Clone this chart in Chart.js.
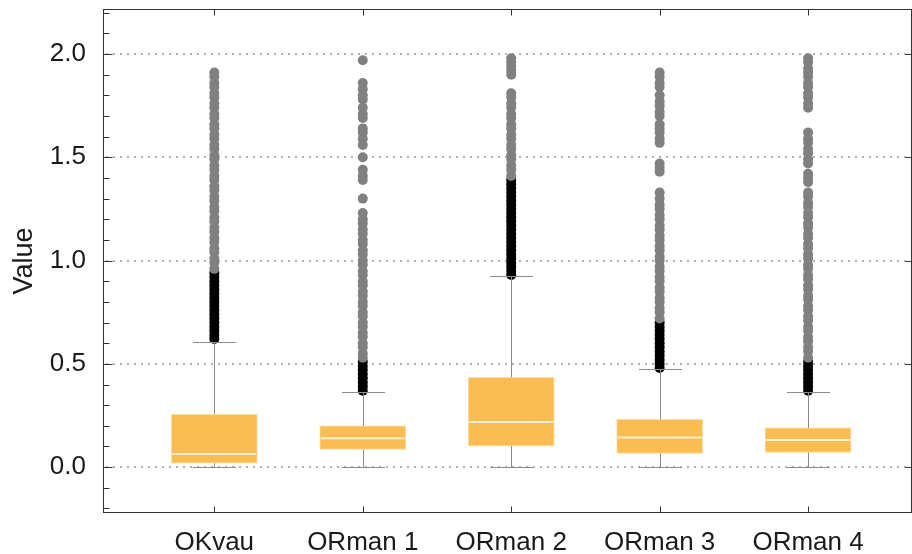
<!DOCTYPE html>
<html>
<head>
<meta charset="utf-8">
<script src="https://cdn.jsdelivr.net/npm/chart.js@4/dist/chart.umd.min.js"></script>
<style>
  html, body { margin: 0; padding: 0; background: #ffffff; }
  #wrap { width: 912px; height: 554px; }
</style>
</head>
<body>
<div id="wrap"><canvas id="chart" width="912" height="554"></canvas></div>
<script>
// Box-and-whisker summary per group
const categories   = ['OKvau', 'ORman 1', 'ORman 2', 'ORman 3', 'ORman 4'];
const lowerWhisker = [0.000, 0.000, 0.000, 0.000, 0.000];
const q1           = [0.019, 0.086, 0.103, 0.066, 0.071];
const median       = [0.064, 0.140, 0.218, 0.143, 0.132];
const q3           = [0.256, 0.200, 0.435, 0.231, 0.190];
const upperWhisker = [0.606, 0.364, 0.927, 0.473, 0.364];

// Near outliers (1.5–3 IQR above the box)
const nearOutliers = [
  [0.62,0.64,0.66,0.68,0.70,0.72,0.74,0.76,0.78,0.80,0.82,0.84,0.86,0.88,0.90,0.92,0.94],
  [0.37,0.39,0.41,0.43,0.45,0.47,0.49,0.51],
  [0.93,0.95,0.97,0.99,1.01,1.03,1.05,1.07,1.09,1.11,1.13,1.15,1.17,1.19,1.21,1.23,1.25,1.27,1.29,1.31,1.33,1.35,1.37,1.39],
  [0.48,0.50,0.52,0.54,0.56,0.58,0.60,0.62,0.64,0.66,0.68,0.70],
  [0.37,0.39,0.41,0.43,0.45,0.47,0.49,0.51]
];

// Far outliers (beyond 3 IQR)
const farOutliers = [
  [0.96,0.99,1.01,1.04,1.06,1.09,1.11,1.14,1.16,1.19,1.21,1.24,1.26,1.29,1.31,1.34,1.36,1.39,1.41,1.44,1.46,1.49,1.51,1.54,1.56,1.59,1.61,1.64,1.66,1.69,1.71,1.74,1.76,1.79,1.81,1.84,1.86,1.89,1.91],
  [0.53,0.55,0.58,0.60,0.63,0.65,0.68,0.70,0.73,0.75,0.78,0.80,0.83,0.85,0.88,0.90,0.93,0.95,0.98,1.00,1.03,1.05,1.08,1.10,1.13,1.15,1.18,1.20,1.23,1.30,1.39,1.41,1.44,1.50,1.56,1.59,1.62,1.64,1.69,1.71,1.74,1.78,1.80,1.83,1.86,1.97],
  [1.41,1.44,1.46,1.49,1.51,1.54,1.56,1.59,1.61,1.64,1.66,1.69,1.71,1.74,1.76,1.79,1.81,1.90,1.92,1.94,1.96,1.98],
  [0.72,0.75,0.77,0.80,0.82,0.85,0.87,0.90,0.92,0.95,0.97,1.00,1.02,1.05,1.07,1.10,1.12,1.15,1.17,1.20,1.22,1.25,1.27,1.30,1.33,1.43,1.45,1.47,1.57,1.59,1.62,1.64,1.66,1.70,1.72,1.75,1.77,1.80,1.84,1.86,1.89,1.91],
  [0.53,0.56,0.58,0.61,0.63,0.66,0.68,0.71,0.73,0.76,0.78,0.81,0.83,0.86,0.88,0.91,0.93,0.96,0.98,1.01,1.03,1.06,1.08,1.11,1.13,1.16,1.18,1.21,1.23,1.26,1.28,1.31,1.33,1.38,1.40,1.42,1.47,1.49,1.52,1.54,1.57,1.59,1.62,1.74,1.76,1.79,1.81,1.84,1.86,1.89,1.91,1.93,1.96,1.98]
];

const yTickStep = 0.5;
const yMinorStep = 0.1;

// Build datasets from the arrays
const boxData = categories.map((c, i) => ({ x: i + 1, y: [q1[i], q3[i]] }));
const toPoints = lists => lists.flatMap((vals, i) => vals.map(v => ({ x: i + 1, y: v })));

const FONT = "'Liberation Sans', Arial, sans-serif";
const INK = '#1a1a1a';

// Frame, ticks, dotted reference lines, whiskers and medians
const boxPlotDecor = {
  id: 'boxPlotDecor',
  beforeDatasetsDraw(chart) {
    const { ctx, chartArea: a, scales: { y } } = chart;
    ctx.save();
    ctx.strokeStyle = '#b0b0b0';
    ctx.lineWidth = 2;
    ctx.setLineDash([2, 5]);
    y.ticks.forEach(t => {
      const py = Math.round(y.getPixelForValue(t.value));
      ctx.beginPath();
      ctx.moveTo(a.left + 3, py);
      ctx.lineTo(a.right, py);
      ctx.stroke();
    });
    ctx.restore();
  },
  afterDatasetsDraw(chart) {
    const { ctx, scales: { x, y } } = chart;
    const bars = chart.getDatasetMeta(0).data;
    ctx.save();
    categories.forEach((c, i) => {
      const px = Math.round(x.getPixelForValue(i + 1)) + 0.5;
      const half = bars[i].width / 2;
      const capHalf = half / 2;
      const yHi = Math.round(y.getPixelForValue(upperWhisker[i])) + 0.5;
      const yLo = Math.round(y.getPixelForValue(lowerWhisker[i])) + 0.5;
      const yQ1 = y.getPixelForValue(q1[i]);
      const yQ3 = y.getPixelForValue(q3[i]);
      ctx.strokeStyle = '#8c8c8c';
      ctx.lineWidth = 1;
      ctx.beginPath();
      ctx.moveTo(px, yQ3); ctx.lineTo(px, yHi);
      ctx.moveTo(px, yQ1); ctx.lineTo(px, yLo);
      ctx.moveTo(px - capHalf, yHi); ctx.lineTo(px + capHalf, yHi);
      ctx.moveTo(px - capHalf, yLo); ctx.lineTo(px + capHalf, yLo);
      ctx.stroke();
      // median line
      const yMed = y.getPixelForValue(median[i]);
      ctx.strokeStyle = '#fff0d2';
      ctx.lineWidth = 2;
      ctx.beginPath();
      ctx.moveTo(bars[i].x - half + 1, yMed);
      ctx.lineTo(bars[i].x + half - 1, yMed);
      ctx.stroke();
    });
    ctx.restore();
  },
  afterDraw(chart) {
    const { ctx, chartArea: a, scales: { x, y } } = chart;
    const L = Math.round(a.left) + 0.5, R = Math.round(a.right) - 0.5;
    const T = Math.round(a.top) + 0.5, B = Math.round(a.bottom) - 0.5;
    ctx.save();
    ctx.strokeStyle = '#333333';
    ctx.lineWidth = 1;
    ctx.strokeRect(L, T, R - L, B - T);
    ctx.beginPath();
    // left: minor and major ticks pointing inward
    const kMin = Math.ceil(y.min / yMinorStep - 1e-9), kMax = Math.floor(y.max / yMinorStep + 1e-9);
    for (let k = kMin; k <= kMax; k++) {
      const v = k * yMinorStep;
      const py = Math.round(y.getPixelForValue(v)) + 0.5;
      const major = Math.abs(v / yTickStep - Math.round(v / yTickStep)) < 1e-6;
      ctx.moveTo(L, py); ctx.lineTo(L + (major ? 9 : 6), py);
    }
    // right: major ticks
    y.ticks.forEach(t => {
      const py = Math.round(y.getPixelForValue(t.value)) + 0.5;
      ctx.moveTo(R, py); ctx.lineTo(R - 6, py);
    });
    // top and bottom: category ticks
    x.ticks.forEach(t => {
      const px = Math.round(x.getPixelForValue(t.value)) + 0.5;
      ctx.moveTo(px, T); ctx.lineTo(px, T + 6);
      ctx.moveTo(px, B); ctx.lineTo(px, B - 6);
    });
    ctx.stroke();
    ctx.restore();
  }
};

new Chart(document.getElementById('chart'), {
  type: 'bar',
  data: {
    datasets: [
      {
        type: 'bar',
        label: 'Box',
        data: boxData,
        backgroundColor: '#fbbc52',
        borderColor: '#ffdca0',
        borderWidth: 1,
        borderSkipped: false,
        barThickness: 86,
        order: 3
      },
      {
        type: 'scatter',
        label: 'Near outliers',
        data: toPoints(nearOutliers),
        backgroundColor: '#000000',
        borderWidth: 0,
        pointRadius: 5,
        order: 2
      },
      {
        type: 'scatter',
        label: 'Far outliers',
        data: toPoints(farOutliers),
        backgroundColor: '#808080',
        borderWidth: 0,
        pointRadius: 5,
        order: 1
      }
    ]
  },
  options: {
    responsive: false,
    animation: false,
    events: [],
    layout: { autoPadding: false, padding: { top: 9, right: 0, left: 0, bottom: 0 } },
    plugins: { legend: { display: false }, tooltip: { enabled: false } },
    scales: {
      x: {
        type: 'linear',
        min: 0.25,
        max: 5.7,
        offset: false,
        grid: { display: false, offset: false },
        border: { display: false },
        ticks: {
          stepSize: 1,
          includeBounds: false,
          autoSkip: false,
          maxRotation: 0,
          padding: 6,
          color: INK,
          font: { family: FONT, size: 26 },
          callback: v => categories[v - 1] ?? ''
        },
        afterFit: s => { s.height = 41; s.paddingLeft = 0; s.paddingRight = 0; }
      },
      y: {
        type: 'linear',
        min: -0.222,
        max: 2.218,
        grid: { display: false },
        border: { display: false },
        ticks: {
          stepSize: yTickStep,
          includeBounds: false,
          padding: 9,
          color: INK,
          font: { family: FONT, size: 26 },
          callback: v => Number(v).toFixed(1)
        },
        title: {
          display: true,
          text: 'Value',
          color: INK,
          font: { family: FONT, size: 27 },
          padding: { top: 8, bottom: 0 }
        },
        afterFit: s => { s.width = 103; s.paddingTop = 0; s.paddingBottom = 0; }
      }
    }
  },
  plugins: [boxPlotDecor]
});
</script>
</body>
</html>
